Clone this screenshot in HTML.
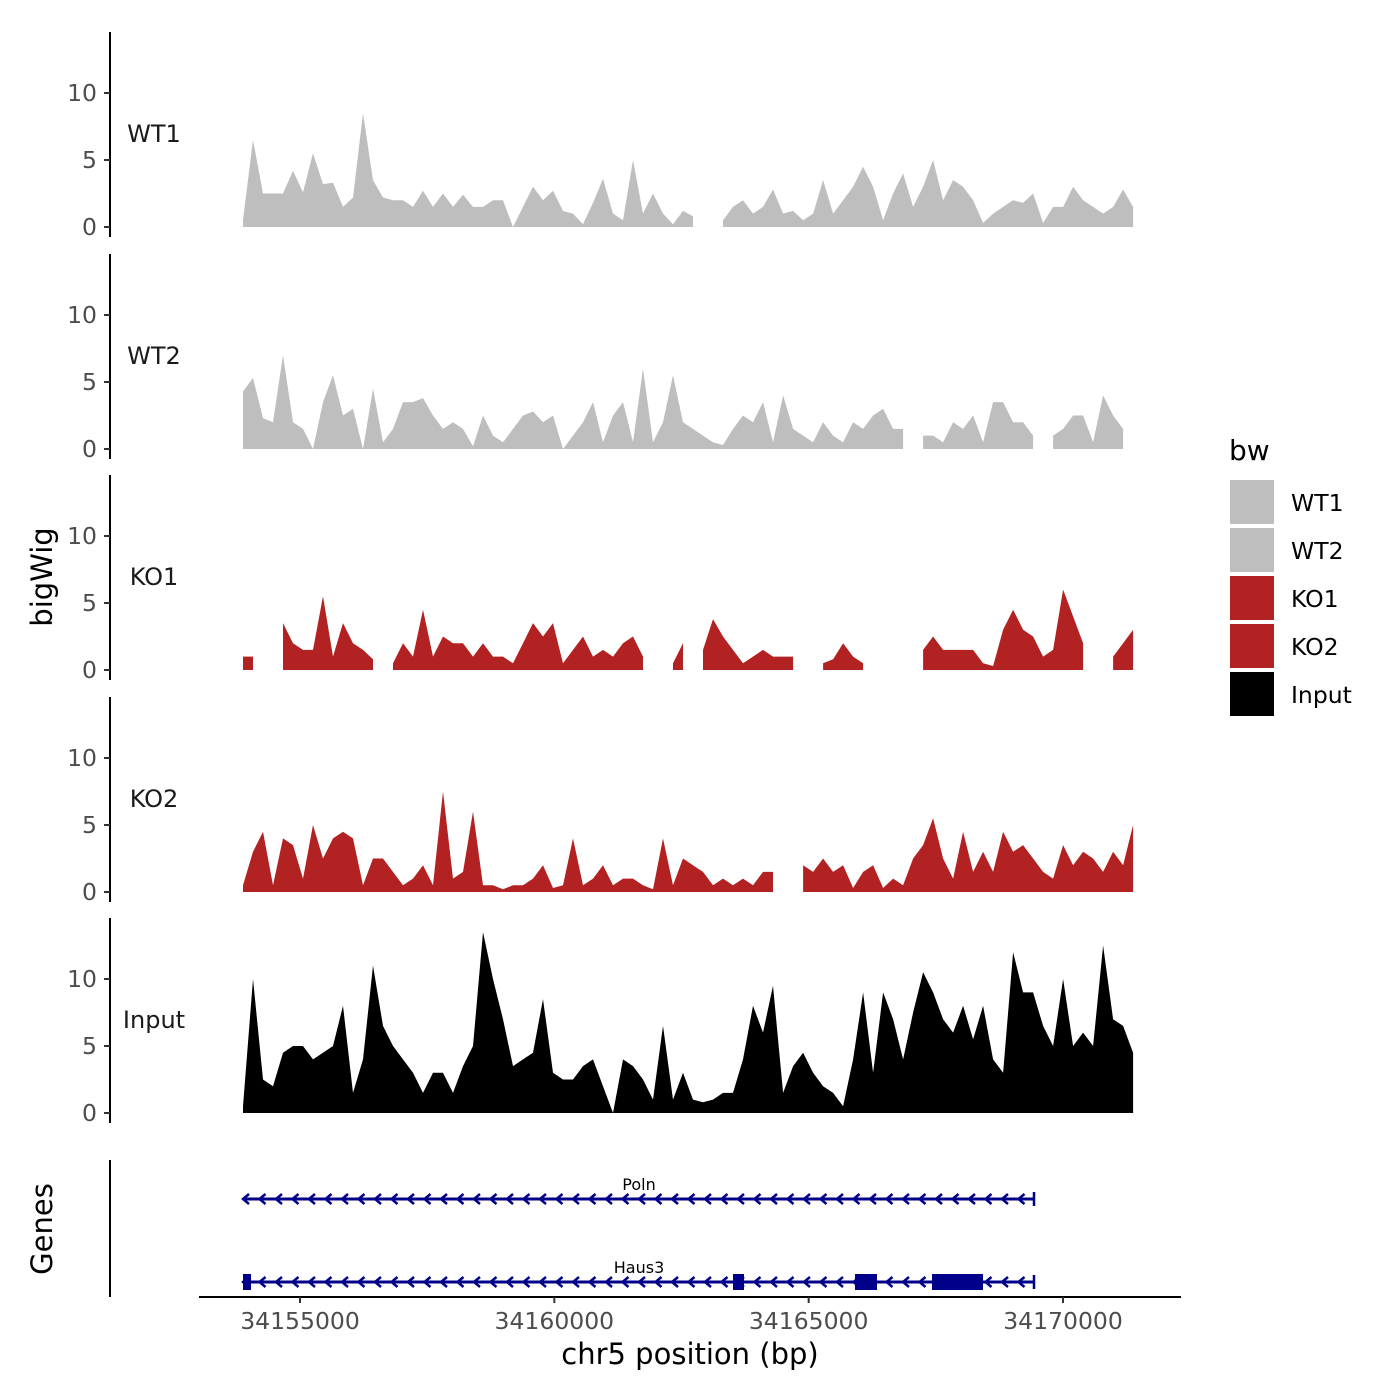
<!DOCTYPE html>
<html><head><meta charset="utf-8"><style>
html,body{margin:0;padding:0;background:#fff}
svg{display:block;font-family:"DejaVu Sans","Liberation Sans",sans-serif}
</style></head><body>
<svg id="chart" width="1400" height="1400" viewBox="0 0 1400 1400" xmlns="http://www.w3.org/2000/svg">
<rect width="1400" height="1400" fill="#fff"/>
<g id="tracks"></g>
<g id="genes"></g>
<text x="52" y="577" font-size="29" text-anchor="middle" transform="rotate(-90 52 577)">bigWig</text>
<text x="52" y="1229" font-size="29" text-anchor="middle" transform="rotate(-90 52 1229)">Genes</text>
<text x="690" y="1364" font-size="29" text-anchor="middle">chr5 position (bp)</text>
<g id="legend">
<text x="1229" y="460" font-size="28">bw</text>
</g>
</svg>
<script>
const trackNames = ["WT1","WT2","KO1","KO2","Input"];
const trackColors = ["#bebebe","#bebebe","#b22222","#b22222","#000000"];
const startBp = 34153880;
const stepBp = 196.6;
const wt1 = [0.5,6.5,2.5,2.5,2.5,4.2,2.6,5.5,3.2,3.3,
 1.5,2.2,8.5,3.5,2.2,2.0,2.0,1.5,2.7,1.5,
 2.5,1.5,2.4,1.5,1.5,2.0,2.0,0,1.5,3.0,
 2.0,2.7,1.2,1.0,0.2,1.8,3.6,1.0,0.5,5.0,
 1.0,2.5,1.0,0.2,1.2,0.8,null,null,0.5,1.5,
 2.0,1.0,1.5,2.8,1.0,1.2,0.5,1.0,3.5,1.0,
 2.0,3.0,4.5,3.0,0.5,2.5,4.0,1.5,3.0,5.0,
 2.0,3.5,3.0,2.0,0.3,1.0,1.5,2.0,1.8,2.5,
 0.3,1.5,1.5,3.0,2.0,1.5,1.0,1.5,2.8,1.5];
const wt2 = [4.3,5.3,2.3,2.0,7.0,2.0,1.5,0,3.5,5.5,
 2.5,3.0,0,4.5,0.5,1.5,3.5,3.5,3.8,2.5,
 1.5,2.0,1.5,0.2,2.5,1.0,0.5,1.5,2.5,2.8,
 2.0,2.5,0,1.0,2.0,3.5,0.5,2.5,3.5,0.5,
 6.0,0.5,2.0,5.5,2.0,1.5,1.0,0.5,0.3,1.5,
 2.5,2.0,3.5,0.5,4.0,1.5,1.0,0.5,2.0,1.0,
 0.5,2.0,1.5,2.5,3.0,1.5,1.5,null,1.0,1.0,
 0.5,2.0,1.5,2.5,0.5,3.5,3.5,2.0,2.0,1.0,
 null,1.0,1.5,2.5,2.5,0.5,4.0,2.5,1.5,null];
const ko1 = [1.0,1.0,null,null,3.5,2.0,1.5,1.5,5.5,1.0,
 3.5,2.0,1.5,0.8,null,0.5,2.0,1.0,4.5,1.0,
 2.5,2.0,2.0,1.0,2.0,1.0,1.0,0.5,2.0,3.5,
 2.5,3.5,0.5,1.5,2.5,1.0,1.5,1.0,2.0,2.5,
 1.0,null,null,0.5,2.0,null,1.5,3.8,2.5,1.5,
 0.5,1.0,1.5,1.0,1.0,1.0,null,null,0.5,0.8,
 2.0,1.0,0.5,null,null,null,1.0,null,1.5,2.5,
 1.5,1.5,1.5,1.5,0.5,0.3,3.0,4.5,3.0,2.5,
 1.0,1.5,6.0,4.0,2.0,null,null,1.0,2.0,3.0];
const ko2 = [0.5,3.0,4.5,0.5,4.0,3.5,1.0,5.0,2.5,4.0,
 4.5,4.0,0.5,2.5,2.5,1.5,0.5,1.0,2.0,0.5,
 7.5,1.0,1.5,6.0,0.5,0.5,0.2,0.5,0.5,1.0,
 2.0,0.3,0.5,4.0,0.5,1.0,2.0,0.5,1.0,1.0,
 0.5,0.2,4.0,0.5,2.5,2.0,1.5,0.5,1.0,0.5,
 1.0,0.5,1.5,1.5,null,null,2.0,1.5,2.5,1.5,
 2.0,0.3,1.5,2.0,0.3,1.0,0.5,2.5,3.5,5.5,
 2.5,1.0,4.5,1.5,3.0,1.5,4.5,3.0,3.5,2.5,
 1.5,1.0,3.5,2.0,3.0,2.5,1.5,3.0,2.0,5.0];
const input = [0.5,10,2.5,2.0,4.5,5.0,5.0,4.0,4.5,5.0,
 8.0,1.5,4.0,11.0,6.5,5.0,4.0,3.0,1.5,3.0,
 3.0,1.5,3.5,5.0,13.5,10.0,7.0,3.5,4.0,4.5,
 8.5,3.0,2.5,2.5,3.5,4.0,2.0,0,4.0,3.5,
 2.5,1.0,6.5,1.0,3.0,1.0,0.8,1.0,1.5,1.5,
 4.0,8.0,6.0,9.5,1.5,3.5,4.5,3.0,2.0,1.5,
 0.5,4.0,9.0,3.0,9.0,7.0,4.0,7.5,10.5,9.0,
 7.0,6.0,8.0,5.5,8.0,4.0,3.0,12.0,9.0,9.0,
 6.5,5.0,10.0,5.0,6.0,5.0,12.5,7.0,6.5,4.5];
const trackValues = [wt1,wt2,ko1,ko2,input];
const yTicks = [0,5,10];
const xTicks = [34155000,34160000,34165000,34170000];
const NS="http://www.w3.org/2000/svg";
function xs(bp){return 300+(bp-34155000)*763/15000;}
function mk(tag,attrs,parent){const e=document.createElementNS(NS,tag);for(const k in attrs)e.setAttribute(k,attrs[k]);parent.appendChild(e);return e;}
const tracksG=document.getElementById('tracks');
const base0=[227,449,670,892,1113];
const pxPerUnit=13.4;
trackValues.forEach((vals,t)=>{
  const b=base0[t];
  const ys=v=>b-v*pxPerUnit;
  const g=mk('g',{},tracksG);
  
  
  const ax=mk('line',{x1:110,x2:110,y1:b-195,y2:b+10,stroke:'#000','stroke-width':2},g);
  
  
  yTicks.forEach(v=>{
    const tk=mk('line',{x1:104,x2:110,y1:ys(v),y2:ys(v),stroke:'#333','stroke-width':2},g);
    
    
    const tl=mk('text',{x:97,y:ys(v)+8,'font-size':23.5,'text-anchor':'end',fill:'#4d4d4d'},g);
    tl.textContent=v;
    
    
  });
  const lab=mk('text',{x:154,y:b-85,'font-size':24,'text-anchor':'middle',fill:'#1a1a1a'},g);
  lab.textContent=trackNames[t];
  
  
  let seg=[];
  const flush=()=>{
    if(seg.length>0){
      let d='M'+seg[0][0]+','+b;
      seg.forEach(p=>{d+=' L'+p[0]+','+p[1];});
      d+=' L'+seg[seg.length-1][0]+','+b+' Z';
      const p=mk('path',{d:d,fill:trackColors[t]},g);
      
      
    }
    seg=[];
  };
  vals.forEach((v,i)=>{
    if(v===null){flush();return;}
    seg.push([xs(startBp+i*stepBp).toFixed(1),ys(v).toFixed(1)]);
  });
  flush();
});
const genesG=document.getElementById('genes');
const gax=mk('line',{x1:110,x2:110,y1:1160,y2:1297,stroke:'#000','stroke-width':2},genesG);


const xax=mk('line',{x1:199,x2:1181,y1:1297,y2:1297,stroke:'#000','stroke-width':2},genesG);


xTicks.forEach(v=>{
  const tk=mk('line',{x1:xs(v),x2:xs(v),y1:1297,y2:1303,stroke:'#333','stroke-width':2},genesG);
  
  
  const tl=mk('text',{x:xs(v),y:1329,'font-size':23.5,'text-anchor':'middle',fill:'#4d4d4d'},genesG);
  tl.textContent=v;
  
  
});
const geneNames=["Poln","Haus3"];
const geneY=[1199,1282];
const geneExons=[[],[[243,251],[733,744],[855,877],[932,983]]];
geneNames.forEach((n,k)=>{
  const y=geneY[k];
  const g=mk('g',{},genesG);
  
  
  mk('line',{x1:243,x2:1034,y1:y,y2:y,stroke:'#00008b','stroke-width':3},g);
  mk('line',{x1:1034,x2:1034,y1:y-7,y2:y+7,stroke:'#00008b','stroke-width':2.5},g);
  for(let x=243;x<1030;x+=16.5){
    mk('path',{d:`M${x+6},${y-5} L${x},${y} L${x+6},${y+5}`,fill:'none',stroke:'#00008b','stroke-width':2.5},g);
  }
  geneExons[k].forEach(e=>{mk('rect',{x:e[0],y:y-8,width:e[1]-e[0],height:16,fill:'#00008b'},g);});
  const tl=mk('text',{x:639,y:y-9,'font-size':16,'text-anchor':'middle'},g);
  tl.textContent=n;
  
  
});
const lg=document.getElementById('legend');
trackNames.forEach((n,i)=>{
  const r=mk('rect',{x:1230,y:480+i*48,width:44,height:44,fill:trackColors[i]},lg);
  
  
  const t=mk('text',{x:1291,y:511+i*48,'font-size':23.5},lg);
  t.textContent=n;
  
  
});
</script>
</body></html>
